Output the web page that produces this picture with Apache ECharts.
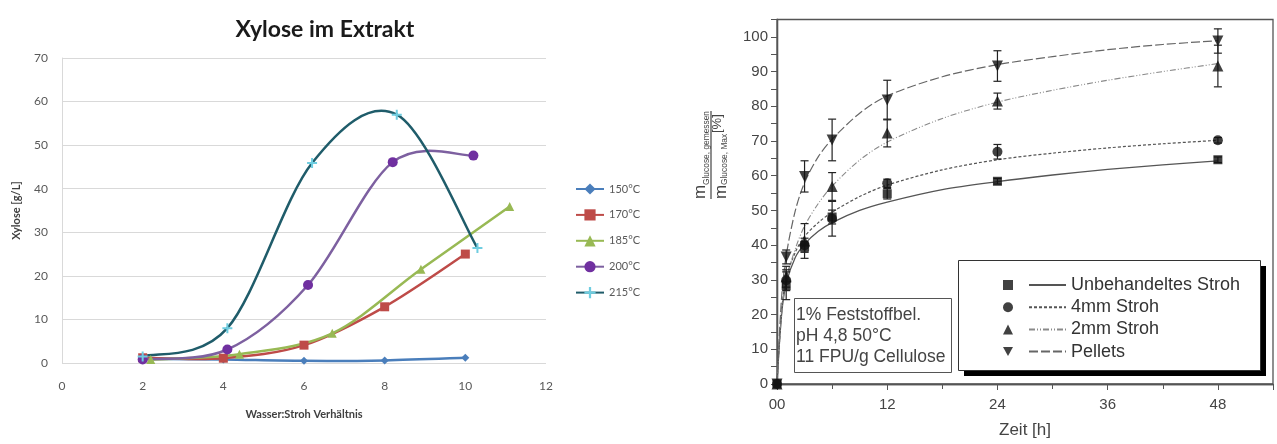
<!DOCTYPE html>
<html>
<head>
<meta charset="utf-8">
<script src="https://cdn.jsdelivr.net/npm/echarts@6/dist/echarts.min.js"></script>
<style>
  html, body { margin: 0; padding: 0; background: #fff; }
  #chart { width: 1277px; height: 444px; }
</style>
</head>
<body>
<div id="chart"></div>
<script>
// ---- Xylose im Extrakt (left panel) ----
const ratio150 = [2, 4, 6, 8, 10];
const xylose150 = [1.0, 0.8, 0.5, 0.6, 1.2];
const ratio170 = [2, 4, 6, 8, 10];
const xylose170 = [1.2, 1.1, 4.1, 12.9, 25.0];
const ratio185 = [2.2, 4.4, 6.7, 8.9, 11.1];
const xylose185 = [0.8, 2.0, 6.8, 21.5, 35.9];
const ratio200 = [2.0, 4.1, 6.1, 8.2, 10.2];
const xylose200 = [0.8, 3.1, 17.9, 46.1, 47.6];
const ratio215 = [2.0, 4.1, 6.2, 8.3, 10.3];
const xylose215 = [1.5, 8.0, 45.9, 57.0, 26.4];
const tempLabels = ['150°C', '170°C', '185°C', '200°C', '215°C'];

// ---- Enzymatische Hydrolyse (right panel) ----
const hours = [0, 1, 3, 6, 12, 24, 48];
const unbehandelt = [0, 28.3, 39.5, 48.1, 54.8, 58.4, 64.6];
const unbehandeltErr = [0, 4.0, 1.5, 2.0, 1.5, 0.8, 0.8];
const stroh4mm = [0, 29.9, 40.0, 47.6, 57.8, 66.9, 70.2];
const stroh4mmErr = [0, 3.0, 2.0, 5.0, 1.2, 2.1, 0.8];
const stroh2mm = [0, 30.9, 41.2, 56.9, 72.3, 81.5, 91.6];
const stroh2mmErr = [0, 3.0, 5.0, 4.0, 4.0, 2.3, 6.0];
const pellets = [0, 36.6, 59.8, 70.3, 81.8, 91.6, 98.8];
const pelletsErr = [0, 2.0, 4.5, 6.0, 5.7, 4.4, 3.5];

// fitted curves, sampled along the time axis
const fitHours = [0, 0.5, 1, 2, 3, 4.5, 6, 9, 12, 18, 24, 30, 36, 42, 48];
const fitUnbehandelt = [0, 20, 29, 36.5, 40.3, 44, 46.5, 50, 52.4, 56, 58.3, 60.2, 61.8, 63.1, 64.3];
const fit4mm = [0, 21, 30.5, 38, 42.5, 46.5, 49.5, 54, 57.3, 61.7, 64.6, 66.5, 68, 69.2, 70.2];
const fit2mm = [0, 20, 30, 39, 45.5, 52, 57, 64.5, 69.7, 76.5, 81.2, 84.6, 87.5, 90, 92.3];
const fitPellets = [0, 25, 37, 50, 58, 65.5, 70.5, 78, 83, 88.5, 92, 94.3, 96.3, 97.8, 98.9];
const groupNames = ['Unbehandeltes Stroh', '4mm Stroh', '2mm Stroh', 'Pellets'];

const zip = (xs, ys) => xs.map((x, i) => [x, ys[i]]);
const zipErr = (xs, ys, es) => xs.map((x, i) => [x, ys[i] - es[i], ys[i] + es[i]]);

const excelFont = 'Lato, "Open Sans", sans-serif';
const originFont = '"Liberation Sans", Arial, sans-serif';
const PLUS = 'path://M4,0H6V4H10V6H6V10H4V6H0V4H4Z';
const TRI_DOWN = 'path://M0,0L10,0L5,9Z';

// Spreadsheet-style smoothed line: each segment is a cubic Bezier whose
// control points follow the neighbouring points (Catmull-Rom, 1/6 tangent).
function splineSeries(xs, ys, color) {
  const n = xs.length;
  return {
    type: 'custom', xAxisIndex: 0, yAxisIndex: 0,
    data: zip(xs, ys), z: 2, silent: true,
    renderItem: function (params, api) {
      const i = params.dataIndex;
      if (i >= n - 1) return null;
      const P = k => api.coord([xs[Math.max(0, Math.min(n - 1, k))], ys[Math.max(0, Math.min(n - 1, k))]]);
      const p0 = P(i - 1), p1 = P(i), p2 = P(i + 1), p3 = P(i + 2);
      return {
        type: 'bezierCurve',
        shape: {
          x1: p1[0], y1: p1[1], x2: p2[0], y2: p2[1],
          cpx1: p1[0] + (p2[0] - p0[0]) / 6, cpy1: p1[1] + (p2[1] - p0[1]) / 6,
          cpx2: p2[0] - (p3[0] - p1[0]) / 6, cpy2: p2[1] - (p3[1] - p1[1]) / 6
        },
        style: { stroke: color, lineWidth: 2.5, fill: null, lineCap: 'round' }
      };
    }
  };
}

function markerSeries(name, xs, ys, lineColor, markColor, symbol, size) {
  return {
    name: name, type: 'line', xAxisIndex: 0, yAxisIndex: 0,
    data: zip(xs, ys), symbol: symbol, symbolSize: size, showSymbol: true,
    lineStyle: { color: lineColor, width: 2.5, opacity: 0 },
    itemStyle: { color: markColor, borderWidth: 0 },
    z: 3, silent: true
  };
}

const xyloseDefs = [
  [tempLabels[0], ratio150, xylose150, '#4a7ebb', '#4a7ebb', 'diamond', 8],
  [tempLabels[1], ratio170, xylose170, '#be4b48', '#be4b48', 'rect', 9],
  [tempLabels[2], ratio185, xylose185, '#98b954', '#98b954', 'triangle', 9],
  [tempLabels[3], ratio200, xylose200, '#7d60a0', '#7030a0', 'circle', 10],
  [tempLabels[4], ratio215, xylose215, '#1f5c6a', '#6fcde0', PLUS, 10]
];

const series = [];
xyloseDefs.forEach(d => series.push(splineSeries(d[1], d[2], d[3])));
xyloseDefs.forEach(d => series.push(markerSeries.apply(null, d)));

const fitStyles = [
  { color: '#555', type: 'solid', width: 1.3 },
  { color: '#555', type: [3, 2], width: 1.2 },
  { color: '#8a8a8a', type: [6, 2, 1, 2, 1, 2], width: 1.1 },
  { color: '#666', type: [9, 3], width: 1.2 }
];
const fitData = [fitUnbehandelt, fit4mm, fit2mm, fitPellets];
const pointData = [unbehandelt, stroh4mm, stroh2mm, pellets];
const errData = [unbehandeltErr, stroh4mmErr, stroh2mmErr, pelletsErr];
const pointSymbols = ['rect', 'circle', 'triangle', TRI_DOWN];
const pointSizes = [9, 10, 11, 11];
const pointNames = groupNames.map(n => 'Messwerte ' + n);

// fitted lines
groupNames.forEach((name, i) => {
  series.push({
    name: name, type: 'line', xAxisIndex: 1, yAxisIndex: 1,
    data: zip(fitHours, fitData[i]), smooth: 0.3,
    symbol: 'none', showSymbol: false,
    itemStyle: { color: fitStyles[i].color },
    lineStyle: fitStyles[i], z: 2, silent: true
  });
});
// error bars
groupNames.forEach((name, i) => {
  series.push({
    type: 'custom', xAxisIndex: 1, yAxisIndex: 1,
    data: zipErr(hours, pointData[i], errData[i]).filter(d => d[2] - d[1] > 0),
    renderItem: function (params, api) {
      const lo = api.coord([api.value(0), api.value(1)]);
      const hi = api.coord([api.value(0), api.value(2)]);
      const w = 4;
      return {
        type: 'group',
        children: [
          { type: 'line', shape: { x1: lo[0], y1: lo[1], x2: hi[0], y2: hi[1] }, style: { stroke: '#222', lineWidth: 1.2 } },
          { type: 'line', shape: { x1: lo[0] - w, y1: lo[1], x2: lo[0] + w, y2: lo[1] }, style: { stroke: '#222', lineWidth: 1.2 } },
          { type: 'line', shape: { x1: hi[0] - w, y1: hi[1], x2: hi[0] + w, y2: hi[1] }, style: { stroke: '#222', lineWidth: 1.2 } }
        ]
      };
    },
    z: 3, silent: true
  });
});
// measured points
groupNames.forEach((name, i) => {
  series.push({
    name: pointNames[i], type: 'scatter', xAxisIndex: 1, yAxisIndex: 1,
    data: zip(hours, pointData[i]),
    symbol: pointSymbols[i], symbolSize: pointSizes[i],
    itemStyle: { color: '#111' }, z: 4, silent: true
  });
});

const chart = echarts.init(document.getElementById('chart'), null, { renderer: 'canvas' });
chart.setOption({
  animation: false,
  backgroundColor: '#fff',
  title: {
    text: 'Xylose im Extrakt', left: 320, top: 13, textAlign: 'center',
    textStyle: { fontFamily: excelFont, fontSize: 23, fontWeight: 'bold', color: '#1a1a1a' }
  },
  grid: [
    { left: 62, top: 58, width: 484, height: 305, show: false },
    { left: 777, top: 19.5, width: 496, height: 366.8, show: true, borderColor: '#555', borderWidth: 1.3, backgroundColor: 'transparent' }
  ],
  xAxis: [
    {
      type: 'value', gridIndex: 0, min: 0, max: 12, interval: 2,
      axisLine: { show: false }, axisTick: { show: false }, splitLine: { show: false },
      axisLabel: { margin: 17, color: '#595959', fontSize: 12, fontFamily: excelFont },
      name: 'Wasser:Stroh Verhältnis', nameLocation: 'middle', nameGap: 46,
      nameTextStyle: { fontFamily: excelFont, fontSize: 11, fontWeight: 'bold', color: '#404040' }
    },
    {
      type: 'value', gridIndex: 1, min: 0, max: 54, interval: 12, position: 'bottom',
      axisLine: { show: true, lineStyle: { color: '#555', width: 1.3 } },
      axisTick: { show: true, inside: false, length: 6, lineStyle: { color: '#555' } },
      minorTick: { show: true, splitNumber: 2, length: 4, lineStyle: { color: '#555' } },
      splitLine: { show: false },
      axisLabel: {
        margin: 13, color: '#444', fontSize: 15, fontFamily: originFont, showMaxLabel: false,
        formatter: v => (v === 0 ? '00' : String(v))
      },
      name: 'Zeit [h]', nameLocation: 'middle', nameGap: 38,
      nameTextStyle: { fontFamily: originFont, fontSize: 17, color: '#444' }
    },
    {
      type: 'value', gridIndex: 1, min: 0, max: 54, interval: 6, position: 'top',
      axisLine: { show: true, lineStyle: { color: '#555', width: 1.3 } },
      axisTick: { show: true, inside: true, length: 5, lineStyle: { color: '#555' } },
      axisLabel: { show: false }, splitLine: { show: false }
    }
  ],
  yAxis: [
    {
      type: 'value', gridIndex: 0, min: 0, max: 70, interval: 10,
      axisLine: { show: true, lineStyle: { color: '#d9d9d9', width: 1 } },
      axisTick: { show: false },
      splitLine: { show: true, lineStyle: { color: '#d9d9d9', width: 1 } },
      axisLabel: { margin: 14, color: '#595959', fontSize: 12, fontFamily: excelFont },
      name: 'Xylose [g/L]', nameLocation: 'middle', nameGap: 40, nameRotate: 90,
      nameTextStyle: { fontFamily: excelFont, fontSize: 11, fontWeight: 'bold', color: '#404040' }
    },
    {
      type: 'value', gridIndex: 1, min: 0, max: 105, interval: 10, position: 'left',
      axisLine: { show: true, lineStyle: { color: '#555', width: 1.3 } },
      axisTick: { show: true, inside: false, length: 6, lineStyle: { color: '#555' } },
      minorTick: { show: true, splitNumber: 2, length: 4, lineStyle: { color: '#555' } },
      splitLine: { show: false },
      axisLabel: { margin: 9, color: '#444', fontSize: 15, fontFamily: originFont, showMaxLabel: false }
    },
    {
      type: 'value', gridIndex: 1, min: 0, max: 105, interval: 5, position: 'right',
      axisLine: { show: true, lineStyle: { color: '#555', width: 1.3 } },
      axisTick: { show: true, inside: true, length: 6, lineStyle: { color: '#555' } },
      axisLabel: { show: false }, splitLine: { show: false }
    }
  ],
  legend: [
    {
      data: tempLabels, orient: 'vertical', left: 575, top: 183.4, padding: 0,
      itemWidth: 28, itemHeight: 14, itemGap: 14.7,
      lineStyle: { opacity: 1 },
      textStyle: { fontFamily: excelFont, fontSize: 11, color: '#595959' },
      selectedMode: false
    },
    {
      data: groupNames, orient: 'vertical', left: 1028, top: 276, padding: 0,
      itemWidth: 37, itemHeight: 14, itemGap: 4.2,
      itemStyle: { opacity: 0 },
      textStyle: { fontFamily: originFont, fontSize: 18, lineHeight: 18, color: '#333' },
      selectedMode: false, z: 10
    },
    {
      data: pointNames, orient: 'vertical', left: 1003, top: 280, padding: 0,
      itemWidth: 10, itemHeight: 10, itemGap: 12.2,
      formatter: () => '', itemStyle: { color: '#111' },
      selectedMode: false, z: 10
    }
  ],
  graphic: [
    // legend frame with hard drop shadow
    { type: 'rect', z: 1, left: 964, top: 266, shape: { width: 302, height: 110 }, style: { fill: '#000' } },
    { type: 'rect', z: 1, left: 958, top: 260, shape: { width: 302, height: 110 }, style: { fill: '#fff', stroke: '#333', lineWidth: 1 } },
    // conditions box
    { type: 'rect', z: 1, left: 794, top: 298, shape: { width: 157, height: 74 }, style: { fill: '#fff', stroke: '#555', lineWidth: 1 } },
    {
      type: 'text', z: 2, left: 796, top: 305,
      style: {
        text: '1% Feststoffbel.\npH 4,8 50°C\n11 FPU/g Cellulose',
        font: '17.5px "Liberation Sans", Arial, sans-serif', lineHeight: 21, fill: '#444'
      }
    },
    // y-axis title of the hydrolysis plot: m(Glucose, gemessen) / m(Glucose, Max) [%]
    {
      type: 'group', x: 711, y: 199, rotation: Math.PI / 2, z: 2,
      children: [
        { type: 'text', x: 0, y: -2, style: { text: 'm', font: '17px "Liberation Sans", Arial, sans-serif', fill: '#444', verticalAlign: 'bottom' } },
        { type: 'text', x: 14, y: 0, style: { text: 'Glucose, gemessen', font: '8.4px "Liberation Sans", Arial, sans-serif', fill: '#444', verticalAlign: 'bottom' } },
        { type: 'line', shape: { x1: 0, y1: 0, x2: 88, y2: 0 }, style: { stroke: '#444', lineWidth: 1.2 } },
        { type: 'text', x: 0, y: 2, style: { text: 'm', font: '17px "Liberation Sans", Arial, sans-serif', fill: '#444', verticalAlign: 'top' } },
        { type: 'text', x: 14, y: 10, style: { text: 'Glucose, Max', font: '8.4px "Liberation Sans", Arial, sans-serif', fill: '#444', verticalAlign: 'top' } },
        { type: 'text', x: 66, y: 6, style: { text: '[%]', font: '13px "Liberation Sans", Arial, sans-serif', fill: '#444', verticalAlign: 'middle' } }
      ]
    }
  ],
  series: series
});
</script>
</body>
</html>
